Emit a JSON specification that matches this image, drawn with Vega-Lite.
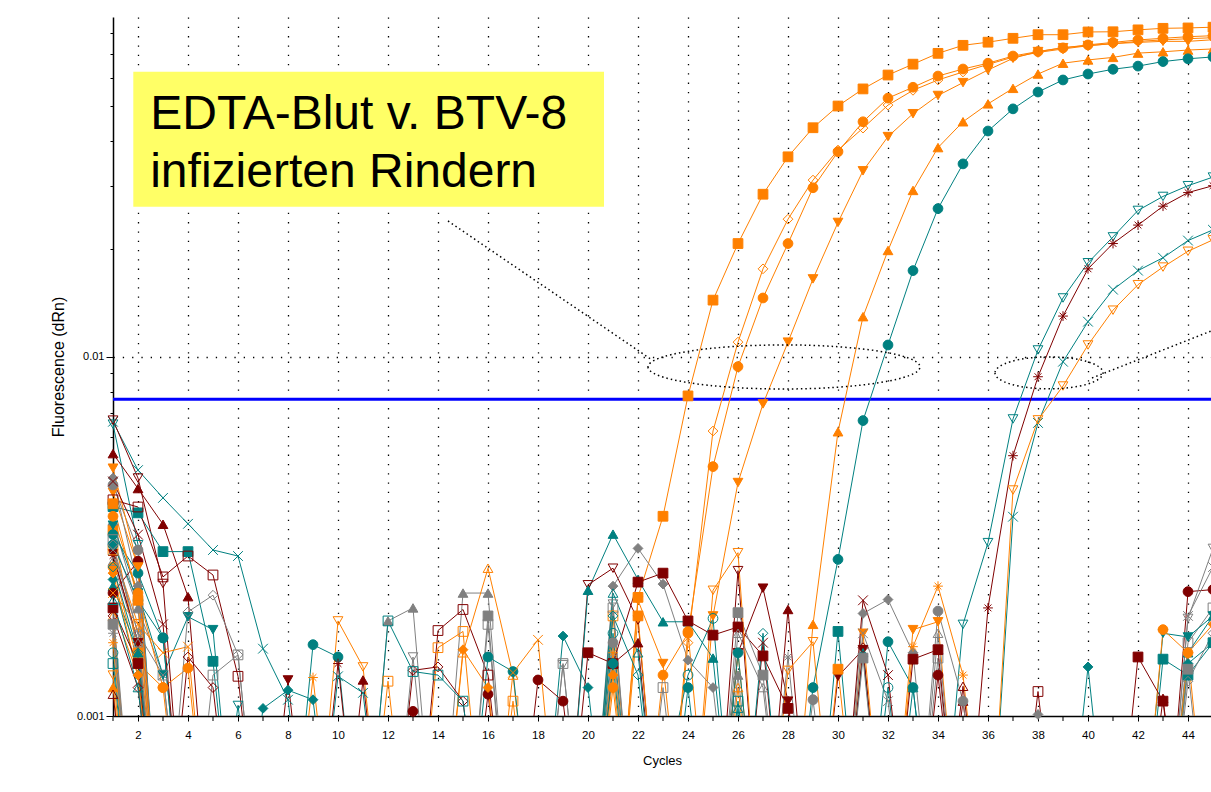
{
  "$schema": "https://vega.github.io/schema/vega-lite/v6.json",
  "autosize": {"type": "none"},
  "padding": {"left": 113, "top": 17, "right": 0, "bottom": 76},
  "width": 1098,
  "height": 699,
  "background": "white",
  "config": {"font": "Liberation Sans", "view": {"stroke": null}},
  "datasets": {
    "curves": [
      {"s":"s01","c":1,"v":0.0033},{"s":"s01","c":2,"v":0.0015},{"s":"s01","c":3,"v":0.0003},{"s":"s01","c":21,"v":0.0003},{"s":"s01","c":22,"v":0.00214},{"s":"s01","c":23,"v":0.0036},{"s":"s01","c":24,"v":0.00779},{"s":"s01","c":25,"v":0.0144},{"s":"s01","c":26,"v":0.0207},{"s":"s01","c":27,"v":0.0284},{"s":"s01","c":28,"v":0.0361},{"s":"s01","c":29,"v":0.0435},{"s":"s01","c":30,"v":0.05},{"s":"s01","c":31,"v":0.0558},{"s":"s01","c":32,"v":0.061},{"s":"s01","c":33,"v":0.0654},{"s":"s01","c":34,"v":0.0701},{"s":"s01","c":35,"v":0.0738},{"s":"s01","c":36,"v":0.0753},{"s":"s01","c":37,"v":0.0772},{"s":"s01","c":38,"v":0.079},{"s":"s01","c":39,"v":0.079},{"s":"s01","c":40,"v":0.0804},{"s":"s01","c":41,"v":0.0805},{"s":"s01","c":42,"v":0.0815},{"s":"s01","c":43,"v":0.0823},{"s":"s01","c":44,"v":0.0825},{"s":"s01","c":45,"v":0.0829},
      {"s":"s02","c":1,"v":0.0026},{"s":"s02","c":2,"v":0.0014},{"s":"s02","c":3,"v":0.0012},{"s":"s02","c":4,"v":0.0003},{"s":"s02","c":22,"v":0.0003},{"s":"s02","c":23,"v":0.0013},{"s":"s02","c":24,"v":0.0017},{"s":"s02","c":25,"v":0.00495},{"s":"s02","c":26,"v":0.0094},{"s":"s02","c":27,"v":0.0146},{"s":"s02","c":28,"v":0.0207},{"s":"s02","c":29,"v":0.0296},{"s":"s02","c":30,"v":0.0373},{"s":"s02","c":31,"v":0.0452},{"s":"s02","c":32,"v":0.0526},{"s":"s02","c":33,"v":0.0564},{"s":"s02","c":34,"v":0.0606},{"s":"s02","c":35,"v":0.0634},{"s":"s02","c":36,"v":0.0658},{"s":"s02","c":37,"v":0.0689},{"s":"s02","c":38,"v":0.0709},{"s":"s02","c":39,"v":0.0726},{"s":"s02","c":40,"v":0.074},{"s":"s02","c":41,"v":0.0752},{"s":"s02","c":42,"v":0.0764},{"s":"s02","c":43,"v":0.0772},{"s":"s02","c":44,"v":0.078},{"s":"s02","c":45,"v":0.0785},
      {"s":"s03","c":1,"v":0.002},{"s":"s03","c":2,"v":0.0013},{"s":"s03","c":3,"v":0.0003},{"s":"s03","c":23,"v":0.0003},{"s":"s03","c":24,"v":0.0016},{"s":"s03","c":25,"v":0.00622},{"s":"s03","c":26,"v":0.011},{"s":"s03","c":27,"v":0.0176},{"s":"s03","c":28,"v":0.0242},{"s":"s03","c":29,"v":0.0311},{"s":"s03","c":30,"v":0.0377},{"s":"s03","c":31,"v":0.0434},{"s":"s03","c":32,"v":0.0503},{"s":"s03","c":33,"v":0.0553},{"s":"s03","c":34,"v":0.0591},{"s":"s03","c":35,"v":0.0622},{"s":"s03","c":36,"v":0.0653},{"s":"s03","c":37,"v":0.0684},{"s":"s03","c":38,"v":0.0705},{"s":"s03","c":39,"v":0.0721},{"s":"s03","c":40,"v":0.0736},{"s":"s03","c":41,"v":0.0746},{"s":"s03","c":42,"v":0.0757},{"s":"s03","c":43,"v":0.0764},{"s":"s03","c":44,"v":0.077},{"s":"s03","c":45,"v":0.0775},
      {"s":"s04","c":1,"v":0.0042},{"s":"s04","c":2,"v":0.0026},{"s":"s04","c":3,"v":0.0003},{"s":"s04","c":24,"v":0.0003},{"s":"s04","c":25,"v":0.0019},{"s":"s04","c":26,"v":0.00447},{"s":"s04","c":27,"v":0.0074},{"s":"s04","c":28,"v":0.011},{"s":"s04","c":29,"v":0.0165},{"s":"s04","c":30,"v":0.0237},{"s":"s04","c":31,"v":0.033},{"s":"s04","c":32,"v":0.0411},{"s":"s04","c":33,"v":0.0476},{"s":"s04","c":34,"v":0.0535},{"s":"s04","c":35,"v":0.0581},{"s":"s04","c":36,"v":0.063},{"s":"s04","c":37,"v":0.0679},{"s":"s04","c":38,"v":0.0709},{"s":"s04","c":39,"v":0.0727},{"s":"s04","c":40,"v":0.0737},{"s":"s04","c":41,"v":0.0746},{"s":"s04","c":42,"v":0.0752},{"s":"s04","c":43,"v":0.0757},{"s":"s04","c":44,"v":0.0757},{"s":"s04","c":45,"v":0.0765},
      {"s":"s05","c":1,"v":0.0012},{"s":"s05","c":2,"v":0.0003},{"s":"s05","c":28,"v":0.0003},{"s":"s05","c":29,"v":0.0018},{"s":"s05","c":30,"v":0.00619},{"s":"s05","c":31,"v":0.01295},{"s":"s05","c":32,"v":0.0198},{"s":"s05","c":33,"v":0.0291},{"s":"s05","c":34,"v":0.0383},{"s":"s05","c":35,"v":0.0452},{"s":"s05","c":36,"v":0.0507},{"s":"s05","c":37,"v":0.056},{"s":"s05","c":38,"v":0.0614},{"s":"s05","c":39,"v":0.0658},{"s":"s05","c":40,"v":0.0672},{"s":"s05","c":41,"v":0.0683},{"s":"s05","c":42,"v":0.0702},{"s":"s05","c":43,"v":0.0708},{"s":"s05","c":44,"v":0.0716},{"s":"s05","c":45,"v":0.0721},
      {"s":"s06","c":1,"v":0.0032},{"s":"s06","c":2,"v":0.0025},{"s":"s06","c":3,"v":0.00165},{"s":"s06","c":4,"v":0.0003},{"s":"s06","c":8,"v":0.0003},{"s":"s06","c":9,"v":0.00158},{"s":"s06","c":10,"v":0.00146},{"s":"s06","c":11,"v":0.0003},{"s":"s06","c":28,"v":0.0003},{"s":"s06","c":29,"v":0.0012},{"s":"s06","c":30,"v":0.00273},{"s":"s06","c":31,"v":0.00665},{"s":"s06","c":32,"v":0.0108},{"s":"s06","c":33,"v":0.0174},{"s":"s06","c":34,"v":0.0259},{"s":"s06","c":35,"v":0.0345},{"s":"s06","c":36,"v":0.0426},{"s":"s06","c":37,"v":0.0491},{"s":"s06","c":38,"v":0.0547},{"s":"s06","c":39,"v":0.0591},{"s":"s06","c":40,"v":0.0614},{"s":"s06","c":41,"v":0.0633},{"s":"s06","c":42,"v":0.0646},{"s":"s06","c":43,"v":0.0665},{"s":"s06","c":44,"v":0.0677},{"s":"s06","c":45,"v":0.0685},
      {"s":"s07","c":1,"v":0.0065},{"s":"s07","c":2,"v":0.003},{"s":"s07","c":3,"v":0.0003},{"s":"s07","c":5,"v":0.0003},{"s":"s07","c":6,"v":0.00107},{"s":"s07","c":7,"v":0.0003},{"s":"s07","c":34,"v":0.0003},{"s":"s07","c":35,"v":0.0018},{"s":"s07","c":36,"v":0.00304},{"s":"s07","c":37,"v":0.00672},{"s":"s07","c":38,"v":0.01046},{"s":"s07","c":39,"v":0.0146},{"s":"s07","c":40,"v":0.0183},{"s":"s07","c":41,"v":0.0216},{"s":"s07","c":42,"v":0.0256},{"s":"s07","c":43,"v":0.028},{"s":"s07","c":44,"v":0.03},{"s":"s07","c":45,"v":0.0317},
      {"s":"s08","c":1,"v":0.0028},{"s":"s08","c":2,"v":0.0016},{"s":"s08","c":3,"v":0.0003},{"s":"s08","c":9,"v":0.0003},{"s":"s08","c":10,"v":0.0014},{"s":"s08","c":11,"v":0.0003},{"s":"s08","c":35,"v":0.0003},{"s":"s08","c":36,"v":0.002},{"s":"s08","c":37,"v":0.00531},{"s":"s08","c":38,"v":0.00881},{"s":"s08","c":39,"v":0.013},{"s":"s08","c":40,"v":0.0176},{"s":"s08","c":41,"v":0.0207},{"s":"s08","c":42,"v":0.0233},{"s":"s08","c":43,"v":0.0263},{"s":"s08","c":44,"v":0.0287},{"s":"s08","c":45,"v":0.03},
      {"s":"s09","c":1,"v":0.0066},{"s":"s09","c":2,"v":0.00484},{"s":"s09","c":3,"v":0.00405},{"s":"s09","c":4,"v":0.00343},{"s":"s09","c":5,"v":0.0029},{"s":"s09","c":6,"v":0.00279},{"s":"s09","c":7,"v":0.00154},{"s":"s09","c":8,"v":0.00111},{"s":"s09","c":9,"v":0.0003},{"s":"s09","c":10,"v":0.00129},{"s":"s09","c":11,"v":0.00116},{"s":"s09","c":12,"v":0.0003},{"s":"s09","c":36,"v":0.0003},{"s":"s09","c":37,"v":0.00359},{"s":"s09","c":38,"v":0.00655},{"s":"s09","c":39,"v":0.0097},{"s":"s09","c":40,"v":0.01254},{"s":"s09","c":41,"v":0.0154},{"s":"s09","c":42,"v":0.0174},{"s":"s09","c":43,"v":0.0189},{"s":"s09","c":44,"v":0.0211},{"s":"s09","c":45,"v":0.0226},
      {"s":"s10","c":1,"v":0.0018},{"s":"s10","c":2,"v":0.0003},{"s":"s10","c":9,"v":0.0003},{"s":"s10","c":10,"v":0.00184},{"s":"s10","c":11,"v":0.00137},{"s":"s10","c":12,"v":0.0003},{"s":"s10","c":36,"v":0.0003},{"s":"s10","c":37,"v":0.00426},{"s":"s10","c":38,"v":0.00668},{"s":"s10","c":39,"v":0.0083},{"s":"s10","c":40,"v":0.0108},{"s":"s10","c":41,"v":0.0135},{"s":"s10","c":42,"v":0.0159},{"s":"s10","c":43,"v":0.0178},{"s":"s10","c":44,"v":0.0197},{"s":"s10","c":45,"v":0.0212},
      {"s":"s11","c":1,"v":0.00667},{"s":"s11","c":2,"v":0.0046},{"s":"s11","c":3,"v":0.00234},{"s":"s11","c":4,"v":0.0003},{"s":"s11","c":19,"v":0.0003},{"s":"s11","c":20,"v":0.00232},{"s":"s11","c":21,"v":0.00258},{"s":"s11","c":22,"v":0.00185},{"s":"s11","c":23,"v":0.0003},{"s":"s11","c":25,"v":0.0003},{"s":"s11","c":26,"v":0.00254},{"s":"s11","c":27,"v":0.0003},
      {"s":"s12","c":1,"v":0.00283},{"s":"s12","c":2,"v":0.0016},{"s":"s12","c":3,"v":0.0003},{"s":"s12","c":7,"v":0.0003},{"s":"s12","c":8,"v":0.00126},{"s":"s12","c":9,"v":0.0003},{"s":"s12","c":25,"v":0.0003},{"s":"s12","c":26,"v":0.0015},{"s":"s12","c":27,"v":0.00227},{"s":"s12","c":28,"v":0.0011},{"s":"s12","c":29,"v":0.0003},{"s":"s12","c":30,"v":0.00129},{"s":"s12","c":31,"v":0.00153},{"s":"s12","c":32,"v":0.0003},
      {"s":"s13","c":1,"v":0.00538},{"s":"s13","c":2,"v":0.0043},{"s":"s13","c":3,"v":0.00342},{"s":"s13","c":4,"v":0.00215},{"s":"s13","c":5,"v":0.0003},{"s":"s13","c":10,"v":0.0003},{"s":"s13","c":11,"v":0.00126},{"s":"s13","c":12,"v":0.0003},{"s":"s13","c":20,"v":0.0003},{"s":"s13","c":21,"v":0.0014},{"s":"s13","c":22,"v":0.0016},{"s":"s13","c":23,"v":0.0003},{"s":"s13","c":27,"v":0.0003},{"s":"s13","c":28,"v":0.00198},{"s":"s13","c":29,"v":0.0003},{"s":"s13","c":34,"v":0.0003},{"s":"s13","c":35,"v":0.0011},{"s":"s13","c":36,"v":0.0003},{"s":"s13","c":42,"v":0.0003},{"s":"s13","c":43,"v":0.00112},{"s":"s13","c":44,"v":0.0003},
      {"s":"s14","c":1,"v":0.00383},{"s":"s14","c":2,"v":0.00368},{"s":"s14","c":3,"v":0.00287},{"s":"s14","c":4,"v":0.00287},{"s":"s14","c":5,"v":0.00142},{"s":"s14","c":6,"v":0.0003},{"s":"s14","c":29,"v":0.0003},{"s":"s14","c":30,"v":0.00172},{"s":"s14","c":31,"v":0.0003},{"s":"s14","c":42,"v":0.0003},{"s":"s14","c":43,"v":0.00144},{"s":"s14","c":44,"v":0.0013},{"s":"s14","c":45,"v":0.0016},
      {"s":"s15","c":1,"v":0.004},{"s":"s15","c":2,"v":0.00382},{"s":"s15","c":3,"v":0.00244},{"s":"s15","c":4,"v":0.00279},{"s":"s15","c":5,"v":0.00247},{"s":"s15","c":6,"v":0.00129},{"s":"s15","c":7,"v":0.0003},{"s":"s15","c":13,"v":0.0003},{"s":"s15","c":14,"v":0.00173},{"s":"s15","c":15,"v":0.00198},{"s":"s15","c":16,"v":0.0013},{"s":"s15","c":17,"v":0.0003},{"s":"s15","c":37,"v":0.0003},{"s":"s15","c":38,"v":0.00117},{"s":"s15","c":39,"v":0.0003},
      {"s":"s16","c":1,"v":0.0046},{"s":"s16","c":2,"v":0.0023},{"s":"s16","c":3,"v":0.0003},{"s":"s16","c":20,"v":0.0003},{"s":"s16","c":21,"v":0.0023},{"s":"s16","c":22,"v":0.00293},{"s":"s16","c":23,"v":0.00233},{"s":"s16","c":24,"v":0.00143},{"s":"s16","c":25,"v":0.0012},{"s":"s16","c":26,"v":0.0003},{"s":"s16","c":30,"v":0.0003},{"s":"s16","c":31,"v":0.00193},{"s":"s16","c":32,"v":0.00211},{"s":"s16","c":33,"v":0.0015},{"s":"s16","c":34,"v":0.0003},{"s":"s16","c":37,"v":0.0003},{"s":"s16","c":38,"v":0.00101},{"s":"s16","c":39,"v":0.0003},
      {"s":"s17","c":1,"v":0.0035},{"s":"s17","c":2,"v":0.002},{"s":"s17","c":3,"v":0.0003},{"s":"s17","c":11,"v":0.0003},{"s":"s17","c":12,"v":0.00184},{"s":"s17","c":13,"v":0.002},{"s":"s17","c":14,"v":0.0003},{"s":"s17","c":15,"v":0.0022},{"s":"s17","c":16,"v":0.0022},{"s":"s17","c":17,"v":0.0003},{"s":"s17","c":25,"v":0.0003},{"s":"s17","c":26,"v":0.0013},{"s":"s17","c":27,"v":0.0003},
      {"s":"s18","c":1,"v":0.0019},{"s":"s18","c":2,"v":0.0003},{"s":"s18","c":14,"v":0.0003},{"s":"s18","c":15,"v":0.0015},{"s":"s18","c":16,"v":0.00258},{"s":"s18","c":17,"v":0.0013},{"s":"s18","c":18,"v":0.0003},{"s":"s18","c":25,"v":0.0003},{"s":"s18","c":26,"v":0.0012},{"s":"s18","c":27,"v":0.0003},
      {"s":"s19","c":1,"v":0.0023},{"s":"s19","c":2,"v":0.0015},{"s":"s19","c":3,"v":0.0003},{"s":"s19","c":19,"v":0.0003},{"s":"s19","c":20,"v":0.00224},{"s":"s19","c":21,"v":0.00321},{"s":"s19","c":22,"v":0.0024},{"s":"s19","c":23,"v":0.00183},{"s":"s19","c":24,"v":0.00183},{"s":"s19","c":25,"v":0.00145},{"s":"s19","c":26,"v":0.0003},{"s":"s19","c":30,"v":0.0003},{"s":"s19","c":31,"v":0.0015},{"s":"s19","c":32,"v":0.0003},{"s":"s19","c":43,"v":0.0003},{"s":"s19","c":44,"v":0.0015},{"s":"s19","c":45,"v":0.0019},
      {"s":"s20","c":1,"v":0.0029},{"s":"s20","c":2,"v":0.0018},{"s":"s20","c":3,"v":0.0003},{"s":"s20","c":11,"v":0.0003},{"s":"s20","c":12,"v":0.00125},{"s":"s20","c":13,"v":0.0003},{"s":"s20","c":14,"v":0.00155},{"s":"s20","c":15,"v":0.00172},{"s":"s20","c":16,"v":0.0003},{"s":"s20","c":17,"v":0.0011},{"s":"s20","c":18,"v":0.0003},{"s":"s20","c":20,"v":0.0003},{"s":"s20","c":21,"v":0.0019},{"s":"s20","c":22,"v":0.0003},
      {"s":"s21","c":1,"v":0.0015},{"s":"s21","c":2,"v":0.0003},{"s":"s21","c":20,"v":0.0003},{"s":"s21","c":21,"v":0.0017},{"s":"s21","c":22,"v":0.0003},{"s":"s21","c":24,"v":0.0013},{"s":"s21","c":25,"v":0.00187},{"s":"s21","c":26,"v":0.0003},{"s":"s21","c":31,"v":0.0003},{"s":"s21","c":32,"v":0.0012},{"s":"s21","c":33,"v":0.0003},
      {"s":"s22","c":1,"v":0.0031},{"s":"s22","c":2,"v":0.002},{"s":"s22","c":3,"v":0.0013},{"s":"s22","c":4,"v":0.0003},{"s":"s22","c":5,"v":0.0013},{"s":"s22","c":6,"v":0.00148},{"s":"s22","c":7,"v":0.0003},{"s":"s22","c":15,"v":0.0003},{"s":"s22","c":16,"v":0.0018},{"s":"s22","c":17,"v":0.0003},{"s":"s22","c":18,"v":0.0003},{"s":"s22","c":19,"v":0.0014},{"s":"s22","c":20,"v":0.0003},{"s":"s22","c":21,"v":0.002},{"s":"s22","c":22,"v":0.0003},{"s":"s22","c":23,"v":0.0012},{"s":"s22","c":24,"v":0.0003},{"s":"s22","c":33,"v":0.0003},{"s":"s22","c":34,"v":0.00145},{"s":"s22","c":35,"v":0.0003},{"s":"s22","c":43,"v":0.0003},{"s":"s22","c":44,"v":0.0016},{"s":"s22","c":45,"v":0.002},
      {"s":"s23","c":1,"v":0.0024},{"s":"s23","c":2,"v":0.0013},{"s":"s23","c":3,"v":0.0003},{"s":"s23","c":6,"v":0.0003},{"s":"s23","c":7,"v":0.00105},{"s":"s23","c":8,"v":0.00118},{"s":"s23","c":9,"v":0.00111},{"s":"s23","c":10,"v":0.0003},{"s":"s23","c":18,"v":0.0003},{"s":"s23","c":19,"v":0.00167},{"s":"s23","c":20,"v":0.0012},{"s":"s23","c":21,"v":0.0003},{"s":"s23","c":39,"v":0.0003},{"s":"s23","c":40,"v":0.00137},{"s":"s23","c":41,"v":0.0003},{"s":"s23","c":43,"v":0.0003},{"s":"s23","c":44,"v":0.0014},{"s":"s23","c":45,"v":0.0016},
      {"s":"s24","c":1,"v":0.0016},{"s":"s24","c":2,"v":0.0003},{"s":"s24","c":8,"v":0.0003},{"s":"s24","c":9,"v":0.00128},{"s":"s24","c":10,"v":0.0003},{"s":"s24","c":20,"v":0.0003},{"s":"s24","c":21,"v":0.0015},{"s":"s24","c":22,"v":0.0003},{"s":"s24","c":32,"v":0.0003},{"s":"s24","c":33,"v":0.00156},{"s":"s24","c":34,"v":0.0023},{"s":"s24","c":35,"v":0.0013},{"s":"s24","c":36,"v":0.0003},
      {"s":"s25","c":1,"v":0.0022},{"s":"s25","c":2,"v":0.0027},{"s":"s25","c":3,"v":0.0003},{"s":"s25","c":12,"v":0.0003},{"s":"s25","c":13,"v":0.00103},{"s":"s25","c":14,"v":0.0003},{"s":"s25","c":15,"v":0.0003},{"s":"s25","c":16,"v":0.00115},{"s":"s25","c":17,"v":0.0003},{"s":"s25","c":18,"v":0.00126},{"s":"s25","c":19,"v":0.0011},{"s":"s25","c":20,"v":0.0003},{"s":"s25","c":33,"v":0.0003},{"s":"s25","c":34,"v":0.0013},{"s":"s25","c":35,"v":0.0003},{"s":"s25","c":43,"v":0.0003},{"s":"s25","c":44,"v":0.00222},{"s":"s25","c":45,"v":0.00225},
      {"s":"s26","c":1,"v":0.0044},{"s":"s26","c":2,"v":0.0029},{"s":"s26","c":3,"v":0.0003},{"s":"s26","c":20,"v":0.0003},{"s":"s26","c":21,"v":0.0016},{"s":"s26","c":22,"v":0.0003},{"s":"s26","c":28,"v":0.0003},{"s":"s26","c":29,"v":0.00111},{"s":"s26","c":30,"v":0.0003},{"s":"s26","c":33,"v":0.0003},{"s":"s26","c":34,"v":0.00196},{"s":"s26","c":35,"v":0.0011},{"s":"s26","c":36,"v":0.0003},
      {"s":"s27","c":1,"v":0.0025},{"s":"s27","c":2,"v":0.0013},{"s":"s27","c":3,"v":0.0003},{"s":"s27","c":14,"v":0.0003},{"s":"s27","c":15,"v":0.00153},{"s":"s27","c":16,"v":0.0012},{"s":"s27","c":17,"v":0.0003},{"s":"s27","c":20,"v":0.0003},{"s":"s27","c":21,"v":0.0013},{"s":"s27","c":22,"v":0.0003},{"s":"s27","c":25,"v":0.0003},{"s":"s27","c":26,"v":0.0015},{"s":"s27","c":27,"v":0.0003},{"s":"s27","c":43,"v":0.0003},{"s":"s27","c":44,"v":0.0015},{"s":"s27","c":45,"v":0.0018},
      {"s":"s28","c":1,"v":0.0034},{"s":"s28","c":2,"v":0.0022},{"s":"s28","c":3,"v":0.0013},{"s":"s28","c":4,"v":0.00189},{"s":"s28","c":5,"v":0.00174},{"s":"s28","c":6,"v":0.0003},{"s":"s28","c":42,"v":0.0003},{"s":"s28","c":43,"v":0.0017},{"s":"s28","c":44,"v":0.00166},{"s":"s28","c":45,"v":0.0019},
      {"s":"s29","c":1,"v":0.0019},{"s":"s29","c":2,"v":0.0012},{"s":"s29","c":3,"v":0.0003},{"s":"s29","c":4,"v":0.00146},{"s":"s29","c":5,"v":0.0012},{"s":"s29","c":6,"v":0.0003},{"s":"s29","c":12,"v":0.0003},{"s":"s29","c":13,"v":0.00134},{"s":"s29","c":14,"v":0.00137},{"s":"s29","c":15,"v":0.0011},{"s":"s29","c":16,"v":0.0003},{"s":"s29","c":30,"v":0.0003},{"s":"s29","c":31,"v":0.00155},{"s":"s29","c":32,"v":0.0003},
      {"s":"s30","c":1,"v":0.002},{"s":"s30","c":2,"v":0.0003},{"s":"s30","c":12,"v":0.0003},{"s":"s30","c":13,"v":0.00146},{"s":"s30","c":14,"v":0.0003},{"s":"s30","c":18,"v":0.0003},{"s":"s30","c":19,"v":0.00139},{"s":"s30","c":20,"v":0.0003},{"s":"s30","c":21,"v":0.00205},{"s":"s30","c":22,"v":0.0003},{"s":"s30","c":43,"v":0.0003},{"s":"s30","c":44,"v":0.00187},{"s":"s30","c":45,"v":0.00293},
      {"s":"s31","c":1,"v":0.0036},{"s":"s31","c":2,"v":0.0022},{"s":"s31","c":3,"v":0.0012},{"s":"s31","c":4,"v":0.00136},{"s":"s31","c":5,"v":0.0003},{"s":"s31","c":20,"v":0.0003},{"s":"s31","c":21,"v":0.0012},{"s":"s31","c":22,"v":0.0003},{"s":"s31","c":23,"v":0.0003},{"s":"s31","c":24,"v":0.00172},{"s":"s31","c":25,"v":0.0003},{"s":"s31","c":42,"v":0.0003},{"s":"s31","c":43,"v":0.00174},{"s":"s31","c":44,"v":0.0015},{"s":"s31","c":45,"v":0.0003},
      {"s":"s32","c":1,"v":0.002},{"s":"s32","c":2,"v":0.0014},{"s":"s32","c":3,"v":0.0003},{"s":"s32","c":19,"v":0.0003},{"s":"s32","c":20,"v":0.0015},{"s":"s32","c":21,"v":0.0014},{"s":"s32","c":22,"v":0.00236},{"s":"s32","c":23,"v":0.0025},{"s":"s32","c":24,"v":0.00184},{"s":"s32","c":25,"v":0.00168},{"s":"s32","c":26,"v":0.00177},{"s":"s32","c":27,"v":0.00147},{"s":"s32","c":28,"v":0.00105},{"s":"s32","c":29,"v":0.0003},{"s":"s32","c":32,"v":0.0003},{"s":"s32","c":33,"v":0.00144},{"s":"s32","c":34,"v":0.00153},{"s":"s32","c":35,"v":0.0003},{"s":"s32","c":41,"v":0.0003},{"s":"s32","c":42,"v":0.00146},{"s":"s32","c":43,"v":0.0011},{"s":"s32","c":44,"v":0.0003},
      {"s":"s33","c":1,"v":0.003},{"s":"s33","c":2,"v":0.0021},{"s":"s33","c":3,"v":0.00165},{"s":"s33","c":4,"v":0.0003},{"s":"s33","c":15,"v":0.0003},{"s":"s33","c":16,"v":0.00146},{"s":"s33","c":17,"v":0.00133},{"s":"s33","c":18,"v":0.0003},{"s":"s33","c":20,"v":0.0003},{"s":"s33","c":21,"v":0.0014},{"s":"s33","c":22,"v":0.0003},{"s":"s33","c":23,"v":0.0003},{"s":"s33","c":24,"v":0.0012},{"s":"s33","c":25,"v":0.0003},{"s":"s33","c":26,"v":0.0015},{"s":"s33","c":27,"v":0.0003},{"s":"s33","c":31,"v":0.0003},{"s":"s33","c":32,"v":0.00161},{"s":"s33","c":33,"v":0.0012},{"s":"s33","c":34,"v":0.0003},
      {"s":"s34","c":1,"v":0.0049},{"s":"s34","c":2,"v":0.0026},{"s":"s34","c":3,"v":0.0003},{"s":"s34","c":21,"v":0.0003},{"s":"s34","c":22,"v":0.0021},{"s":"s34","c":23,"v":0.0014},{"s":"s34","c":24,"v":0.0003},{"s":"s34","c":30,"v":0.0003},{"s":"s34","c":31,"v":0.0017},{"s":"s34","c":32,"v":0.0003},{"s":"s34","c":33,"v":0.00174},{"s":"s34","c":34,"v":0.00183},{"s":"s34","c":35,"v":0.0003},
      {"s":"s35","c":1,"v":0.0018},{"s":"s35","c":2,"v":0.0003},{"s":"s35","c":15,"v":0.0003},{"s":"s35","c":16,"v":0.0019},{"s":"s35","c":17,"v":0.0003},{"s":"s35","c":25,"v":0.0003},{"s":"s35","c":26,"v":0.00194},{"s":"s35","c":27,"v":0.0013},{"s":"s35","c":28,"v":0.0003},{"s":"s35","c":30,"v":0.0003},{"s":"s35","c":31,"v":0.00145},{"s":"s35","c":32,"v":0.0003},{"s":"s35","c":43,"v":0.0003},{"s":"s35","c":44,"v":0.00135},{"s":"s35","c":45,"v":0.0003},
      {"s":"s36","c":1,"v":0.0014},{"s":"s36","c":2,"v":0.0003},{"s":"s36","c":11,"v":0.0003},{"s":"s36","c":12,"v":0.00184},{"s":"s36","c":13,"v":0.00133},{"s":"s36","c":14,"v":0.0013},{"s":"s36","c":15,"v":0.0011},{"s":"s36","c":16,"v":0.0003},{"s":"s36","c":25,"v":0.0003},{"s":"s36","c":26,"v":0.0011},{"s":"s36","c":27,"v":0.0003},
      {"s":"s37","c":1,"v":0.0022},{"s":"s37","c":2,"v":0.0018},{"s":"s37","c":3,"v":0.0015},{"s":"s37","c":4,"v":0.00156},{"s":"s37","c":5,"v":0.0003},{"s":"s37","c":16,"v":0.0003},{"s":"s37","c":17,"v":0.00132},{"s":"s37","c":18,"v":0.00163},{"s":"s37","c":19,"v":0.0003},
      {"s":"s38","c":1,"v":0.0017},{"s":"s38","c":2,"v":0.0003},{"s":"s38","c":27,"v":0.0003},{"s":"s38","c":28,"v":0.00146},{"s":"s38","c":29,"v":0.0003},
      {"s":"s39","c":1,"v":0.0013},{"s":"s39","c":2,"v":0.0003},{"s":"s39","c":24,"v":0.0003},{"s":"s39","c":25,"v":0.00224},{"s":"s39","c":26,"v":0.00285},{"s":"s39","c":27,"v":0.0003},{"s":"s39","c":28,"v":0.00134},{"s":"s39","c":29,"v":0.00161},{"s":"s39","c":30,"v":0.0003},
      {"s":"s40","c":1,"v":0.00115},{"s":"s40","c":2,"v":0.0003},{"s":"s40","c":34,"v":0.0003},{"s":"s40","c":35,"v":0.00121},{"s":"s40","c":36,"v":0.0003},
      {"s":"s41","c":1,"v":0.003},{"s":"s41","c":2,"v":0.0017},{"s":"s41","c":3,"v":0.0003},{"s":"s41","c":4,"v":0.00195},{"s":"s41","c":5,"v":0.00217},{"s":"s41","c":6,"v":0.00148},{"s":"s41","c":7,"v":0.0003},{"s":"s41","c":43,"v":0.0003},{"s":"s41","c":44,"v":0.00125},{"s":"s41","c":45,"v":0.0017},
      {"s":"s42","c":1,"v":0.0027},{"s":"s42","c":2,"v":0.0016},{"s":"s42","c":3,"v":0.0003},{"s":"s42","c":25,"v":0.0003},{"s":"s42","c":26,"v":0.0017},{"s":"s42","c":27,"v":0.0012},{"s":"s42","c":28,"v":0.0003},{"s":"s42","c":33,"v":0.0003},{"s":"s42","c":34,"v":0.0017},{"s":"s42","c":35,"v":0.0003},
      {"s":"s43","c":1,"v":0.0021},{"s":"s43","c":2,"v":0.0012},{"s":"s43","c":3,"v":0.0003},{"s":"s43","c":20,"v":0.0003},{"s":"s43","c":21,"v":0.0022},{"s":"s43","c":22,"v":0.0015},{"s":"s43","c":23,"v":0.0003},{"s":"s43","c":25,"v":0.0003},{"s":"s43","c":26,"v":0.00105},{"s":"s43","c":27,"v":0.0003},{"s":"s43","c":32,"v":0.0003},{"s":"s43","c":33,"v":0.0012},{"s":"s43","c":34,"v":0.0003},
      {"s":"s44","c":1,"v":0.0045},{"s":"s44","c":2,"v":0.0032},{"s":"s44","c":3,"v":0.0018},{"s":"s44","c":4,"v":0.0003},{"s":"s44","c":26,"v":0.0003},{"s":"s44","c":27,"v":0.0016},{"s":"s44","c":28,"v":0.0003},{"s":"s44","c":30,"v":0.0003},{"s":"s44","c":31,"v":0.0021},{"s":"s44","c":32,"v":0.0013},{"s":"s44","c":33,"v":0.0003},
      {"s":"s45","c":1,"v":0.0039},{"s":"s45","c":2,"v":0.0021},{"s":"s45","c":3,"v":0.0003},{"s":"s45","c":21,"v":0.0003},{"s":"s45","c":22,"v":0.0019},{"s":"s45","c":23,"v":0.0003},{"s":"s45","c":29,"v":0.0003},{"s":"s45","c":30,"v":0.00135},{"s":"s45","c":31,"v":0.0003},
      {"s":"s46","c":1,"v":0.0026},{"s":"s46","c":2,"v":0.0015},{"s":"s46","c":3,"v":0.0003},{"s":"s46","c":20,"v":0.0003},{"s":"s46","c":21,"v":0.0019},{"s":"s46","c":22,"v":0.0013},{"s":"s46","c":23,"v":0.0003},{"s":"s46","c":26,"v":0.0003},{"s":"s46","c":27,"v":0.0017},{"s":"s46","c":28,"v":0.0003},
      {"s":"s47","c":1,"v":0.0029},{"s":"s47","c":2,"v":0.0017},{"s":"s47","c":3,"v":0.0013},{"s":"s47","c":4,"v":0.0003},{"s":"s47","c":30,"v":0.0003},{"s":"s47","c":31,"v":0.0017},{"s":"s47","c":32,"v":0.0011},{"s":"s47","c":33,"v":0.0003},{"s":"s47","c":43,"v":0.0003},{"s":"s47","c":44,"v":0.0019},{"s":"s47","c":45,"v":0.0026}
    ]
  },
  "layer": [
    {
      "data": {"values": [{"c": 1.812, "c2": 20.64, "v": 0.02622, "v2": 0.0623}]},
      "mark": {"type": "rect", "color": "#FFFF66"},
      "encoding": {
        "x": {
          "field": "c", "type": "quantitative", "title": "Cycles",
          "scale": {"domain": [1, 44.92], "nice": false, "zero": false},
          "axis": {
            "values": [2,4,6,8,10,12,14,16,18,20,22,24,26,28,30,32,34,36,38,40,42,44],
            "format": "d",
            "labelFlush": false, "labelOverlap": false,
            "labelFont": "Liberation Sans", "labelFontSize": 11.5, "labelColor": "black", "labelPadding": 8,
            "tickSize": 5, "tickColor": "black", "domainColor": "black", "domainWidth": 1.5,
            "grid": true, "gridColor": "black", "gridWidth": 1.3, "gridDash": [1.3, 8],
            "titleFont": "Liberation Sans", "titleFontSize": 13, "titleFontWeight": "normal", "titleColor": "black", "titlePadding": 14
          }
        },
        "x2": {"field": "c2"},
        "y": {
          "field": "v", "type": "quantitative", "title": "Fluorescence (dRn)",
          "scale": {"type": "log", "domain": [0.001, 0.0885], "nice": false, "zero": false},
          "axis": {
            "values": [0.001,0.002,0.003,0.004,0.005,0.006,0.007,0.008,0.009,0.01,0.02,0.03,0.04,0.05,0.06,0.07,0.08],
            "labelExpr": "datum.value === 0.001 ? '0.001' : (datum.value === 0.01 ? '0.01' : '')",
            "labelFlush": false, "labelOverlap": false,
            "labelFont": "Liberation Sans", "labelFontSize": 11, "labelColor": "black", "labelPadding": 2,
            "tickColor": "black",
            "tickSize": {"condition": {"test": "datum.value === 0.001 || datum.value === 0.01", "value": 7}, "value": 3},
            "domainColor": "black", "domainWidth": 1.5,
            "grid": true, "gridColor": "black", "gridWidth": 1.3, "gridDash": [1.3, 8],
            "gridOpacity": {"condition": {"test": "datum.value === 0.01", "value": 1}, "value": 0},
            "titleFont": "Liberation Sans", "titleFontSize": 16, "titleFontWeight": "normal", "titleColor": "black", "titlePadding": 10
          }
        },
        "y2": {"field": "v2"}
      }
    },
    {
      "data": {"values": [{"c": 1, "v": 0.001}, {"c": 3, "v": 0.001}, {"c": 5, "v": 0.001}, {"c": 7, "v": 0.001}, {"c": 9, "v": 0.001}, {"c": 11, "v": 0.001}, {"c": 13, "v": 0.001}, {"c": 15, "v": 0.001}, {"c": 17, "v": 0.001}, {"c": 19, "v": 0.001}, {"c": 21, "v": 0.001}, {"c": 23, "v": 0.001}, {"c": 25, "v": 0.001}, {"c": 27, "v": 0.001}, {"c": 29, "v": 0.001}, {"c": 31, "v": 0.001}, {"c": 33, "v": 0.001}, {"c": 35, "v": 0.001}, {"c": 37, "v": 0.001}, {"c": 39, "v": 0.001}, {"c": 41, "v": 0.001}, {"c": 43, "v": 0.001}]},
      "mark": {"type": "tick", "orient": "vertical", "size": 5, "thickness": 1, "color": "black", "opacity": 1, "yOffset": 2.5},
      "encoding": {
        "x": {"field": "c", "type": "quantitative", "title": "Cycles"},
        "y": {"field": "v", "type": "quantitative", "title": "Fluorescence (dRn)"}
      }
    },
    {
      "data": {"values": [{"t": "EDTA-Blut v. BTV-8", "c": 2.488, "v": 0.04316}, {"t": "infizierten Rindern", "c": 2.488, "v": 0.02981}]},
      "mark": {"type": "text", "align": "left", "baseline": "alphabetic", "fontSize": 48, "font": "Liberation Sans", "color": "black"},
      "encoding": {
        "x": {"field": "c", "type": "quantitative", "title": "Cycles"},
        "y": {"field": "v", "type": "quantitative", "title": "Fluorescence (dRn)"},
        "text": {"field": "t"}
      }
    },
    {
      "data": {"values": [{"v": 0.00762}]},
      "mark": {"type": "rule", "color": "#0000FF", "strokeWidth": 3},
      "encoding": {"y": {"field": "v", "type": "quantitative", "title": "Fluorescence (dRn)"}}
    },
    {
      "data": {"name": "curves"},
      "mark": {"type": "line", "strokeWidth": 1, "clip": true},
      "encoding": {
        "x": {"field": "c", "type": "quantitative", "title": "Cycles"},
        "y": {"field": "v", "type": "quantitative", "title": "Fluorescence (dRn)"},
        "color": {
          "field": "s", "type": "nominal", "legend": null,
          "scale": {
            "domain": ["s01","s02","s03","s04","s05","s06","s07","s08","s09","s10","s11","s12","s13","s14","s15","s16","s17","s18","s19","s20","s21","s22","s23","s24","s25","s26","s27","s28","s29","s30","s31","s32","s33","s34","s35","s36","s37","s38","s39","s40","s41","s42","s43","s44","s45","s46","s47"],
            "range": ["#FF8000","#FF8000","#FF8000","#FF8000","#FF8000","#008080","#008080","#800000","#008080","#FF8000","#800000","#800000","#800000","#008080","#800000","#808080","#808080","#FF8000","#008080","#FF8000","#008080","#808080","#008080","#FF8000","#800000","#808080","#FF8000","#008080","#800000","#808080","#FF8000","#800000","#008080","#FF8000","#808080","#008080","#FF8000","#808080","#FF8000","#800000","#808080","#808080","#008080","#800000","#FF8000","#008080","#808080"]
          }
        }
      }
    },
    {
      "data": {"name": "curves"},
      "transform": [{"filter": "datum.v >= 0.001"}],
      "mark": {"type": "point", "size": 95, "strokeWidth": 1, "opacity": 1, "filled": false},
      "encoding": {
        "x": {"field": "c", "type": "quantitative", "title": "Cycles"},
        "y": {"field": "v", "type": "quantitative", "title": "Fluorescence (dRn)"},
        "color": {"field": "s", "type": "nominal", "legend": null},
        "shape": {
          "field": "s", "type": "nominal", "legend": null,
          "scale": {
            "domain": ["s01","s02","s03","s04","s05","s06","s07","s08","s09","s10","s11","s12","s13","s14","s15","s16","s17","s18","s19","s20","s21","s22","s23","s24","s25","s26","s27","s28","s29","s30","s31","s32","s33","s34","s35","s36","s37","s38","s39","s40","s41","s42","s43","s44","s45","s46","s47"],
            "range": ["square","circle","diamond","triangle-down","triangle-up","circle","triangle-down","M-1,0L1,0M0,-1L0,1M-0.7,-0.7L0.7,0.7M-0.7,0.7L0.7,-0.7","M-1,-1L1,1M-1,1L1,-1","triangle-down","triangle-down","triangle-down","triangle-up","square","square","diamond","triangle-up","triangle-up","triangle-up","square","circle","square","diamond","M-1,0L1,0M0,-1L0,1M-0.7,-0.7L0.7,0.7M-0.7,0.7L0.7,-0.7","circle","circle","diamond","triangle-down","diamond","triangle-down","circle","square","circle","triangle-down","square","square","M-1,-1L1,1M-1,1L1,-1","M-1,0L1,0M0,-1L0,1M-0.7,-0.7L0.7,0.7M-0.7,0.7L0.7,-0.7","triangle-down","triangle-up","diamond","triangle-up","triangle-up","M-1,-1L1,1M-1,1L1,-1","square","diamond","M-1,-1L1,1M-1,1L1,-1"]
          }
        },
        "fill": {
          "field": "s", "type": "nominal", "legend": null,
          "scale": {
            "domain": ["s01","s02","s03","s04","s05","s06","s07","s08","s09","s10","s11","s12","s13","s14","s15","s16","s17","s18","s19","s20","s21","s22","s23","s24","s25","s26","s27","s28","s29","s30","s31","s32","s33","s34","s35","s36","s37","s38","s39","s40","s41","s42","s43","s44","s45","s46","s47"],
            "range": ["#FF8000","#FF8000","transparent","#FF8000","#FF8000","#008080","transparent","transparent","transparent","transparent","transparent","#800000","#800000","#008080","transparent","#808080","#808080","transparent","#008080","transparent","transparent","transparent","#008080","transparent","#800000","#808080","#FF8000","#008080","transparent","transparent","#FF8000","#800000","#008080","#FF8000","#808080","transparent","transparent","transparent","transparent","transparent","transparent","transparent","transparent","transparent","#FF8000","transparent","transparent"]
          }
        }
      }
    },
    {
      "data": {"values": [{"c": 27.84, "v": 0.00938}]},
      "mark": {"type": "point", "shape": "M-1,0A1,0.162,0,1,0,1,0A1,0.162,0,1,0,-1,0", "size": 73984, "filled": false, "stroke": "black", "strokeWidth": 1.5, "strokeDash": [1.5, 3], "opacity": 1, "fill": "transparent"},
      "encoding": {
        "x": {"field": "c", "type": "quantitative", "title": "Cycles"},
        "y": {"field": "v", "type": "quantitative", "title": "Fluorescence (dRn)"}
      }
    },
    {
      "data": {"values": [{"c": 38.44, "v": 0.00903}]},
      "mark": {"type": "point", "shape": "M-1,0A1,0.296,0,1,0,1,0A1,0.296,0,1,0,-1,0", "size": 11664, "filled": false, "stroke": "black", "strokeWidth": 1.5, "strokeDash": [1.5, 3], "opacity": 1, "fill": "transparent"},
      "encoding": {
        "x": {"field": "c", "type": "quantitative", "title": "Cycles"},
        "y": {"field": "v", "type": "quantitative", "title": "Fluorescence (dRn)"}
      }
    },
    {
      "data": {"values": [{"c": 14.4, "v": 0.02392, "c2": 22.56, "v2": 0.00981}, {"c": 40.16, "v": 0.00874, "c2": 44.92, "v2": 0.01181}]},
      "mark": {"type": "rule", "color": "black", "strokeWidth": 1.5, "strokeDash": [1.5, 3], "clip": true},
      "encoding": {
        "x": {"field": "c", "type": "quantitative", "title": "Cycles"},
        "x2": {"field": "c2"},
        "y": {"field": "v", "type": "quantitative", "title": "Fluorescence (dRn)"},
        "y2": {"field": "v2"}
      }
    }
  ]
}
